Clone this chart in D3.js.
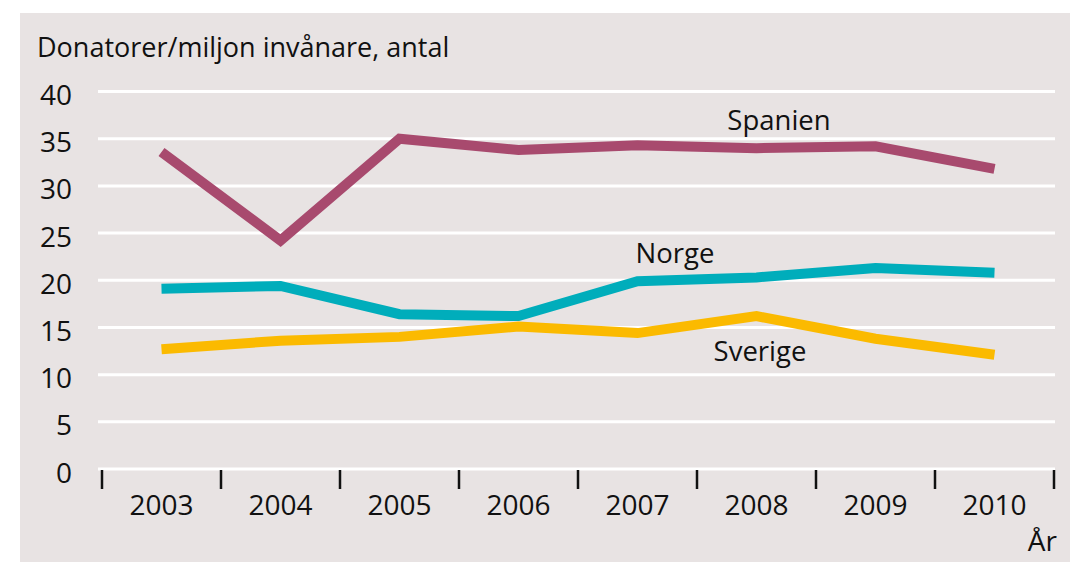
<!DOCTYPE html>
<html><head><meta charset="utf-8">
<script src="https://cdn.jsdelivr.net/npm/d3@7"></script>
<style>
html,body{margin:0;padding:0;background:#fff;}
svg text{font-family:"Open Sans",sans-serif;fill:#111;}
</style></head>
<body>
<svg id="c" width="1070" height="563"></svg>
<script>
const years = ["2003","2004","2005","2006","2007","2008","2009","2010"];
const spanien = [33.6, 24.2, 35.0, 33.8, 34.3, 34.0, 34.2, 31.8];
const norge   = [19.1, 19.4, 16.4, 16.2, 19.9, 20.3, 21.3, 20.8];
const sverige = [12.7, 13.6, 14.0, 15.1, 14.4, 16.2, 13.8, 12.1];
const yTicks  = [0,5,10,15,20,25,30,35,40];
const seriesNames = ["Spanien","Norge","Sverige"];
const colors = ["#a84a6e","#00adbb","#fbba00"];

const svg = d3.select("#c");
svg.append("rect").attr("x",20).attr("y",13).attr("width",1050).attr("height",549).attr("fill","#e8e3e3");

const x = d3.scaleBand().domain(years).range([102,1054]).padding(0);
const y = d3.scaleLinear().domain([0,40]).range([469,91.5]);
const cx = d => x(d) + x.bandwidth()/2;

// gridlines
svg.append("g").selectAll("line").data(yTicks).join("line")
  .attr("x1",98).attr("x2",1055)
  .attr("y1",d=>y(d)).attr("y2",d=>y(d))
  .attr("stroke","#fff").attr("stroke-width",3);

// y labels
svg.append("g").selectAll("text").data(yTicks).join("text")
  .attr("x",72).attr("y",d=>y(d)+13.5).attr("text-anchor","end")
  .attr("font-size",28).text(d=>d);

// x ticks at band boundaries
const bounds = years.map(d=>x(d)).concat([x(years[years.length-1])+x.bandwidth()]);
svg.append("g").selectAll("line").data(bounds).join("line")
  .attr("x1",d=>d).attr("x2",d=>d).attr("y1",470).attr("y2",489)
  .attr("stroke","#111").attr("stroke-width",2.5);

svg.append("g").selectAll("text").data(years).join("text")
  .attr("x",d=>cx(d)).attr("y",515).attr("text-anchor","middle")
  .attr("font-size",28).text(d=>d);

svg.append("text").attr("x",1057).attr("y",551).attr("text-anchor","end").attr("font-size",28).text("År");
svg.append("text").attr("x",37).attr("y",57).attr("font-size",27).text("Donatorer/miljon invånare, antal");

const line = d3.line().x((d,i)=>cx(years[i])).y(d=>y(d));
[spanien,norge,sverige].forEach((s,k)=>{
  svg.append("path").attr("d",line(s)).attr("fill","none")
    .attr("stroke",colors[k]).attr("stroke-width",10).attr("stroke-linejoin","miter");
});

const labelPos = [[779,130],[675,263],[760,361]];
seriesNames.forEach((n,k)=>{
  svg.append("text").attr("x",labelPos[k][0]).attr("y",labelPos[k][1])
    .attr("text-anchor","middle").attr("font-size",27.5).text(n);
});
</script>
</body></html>
